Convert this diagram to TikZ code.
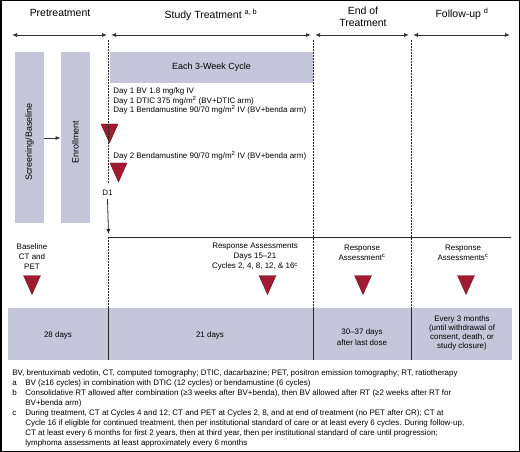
\documentclass[tikz,border=0pt]{standalone}
\usepackage{fontspec}
\setmainfont{Liberation Sans}
\usetikzlibrary{positioning,calc,arrows.meta}
\definecolor{bandgray}{RGB}{197,198,218}
\definecolor{markred}{RGB}{160,26,50}

\begin{document}
\begin{tikzpicture}[x=1bp,y=-1bp,>={Latex[length=5bp,width=4bp]},line width=0.8bp,
head/.style={font=\fontsize{10.5}{12.5}\selectfont,align=center,inner sep=0},
small/.style={font=\fontsize{8}{10}\selectfont,align=center,inner sep=0},
box/.style={fill=bandgray,inner sep=0,font=\fontsize{9}{11}\selectfont},
upright/.style={rotate=90,inner sep=0,font=\fontsize{9}{11}\selectfont},
phase/.style={<->,draw=black!80},
sep/.style={draw=black!85,line width=1bp,dash pattern=on 2bp off 1bp},
marker/.pic={\filldraw[fill=markred,draw=markred!70!black,line width=0.4bp] (-8.5,-9.5) -- (8.5,-9.5) -- (0,9.5) -- cycle;}]
\useasboundingbox (0,0) rectangle (520,452);
\draw[line width=1.5bp] (0.75,0.75) rectangle (519.25,451.25);
% headers
  \node[head] (pre) at (60,13) {Pretreatment};
  \node[head] (study) at (211,15) {Study Treatment \textsuperscript{a, b}};
  \node[head] (eot) at (363,17) {End of\\Treatment};
  \node[head] (fu) at (462,14) {Follow-up \textsuperscript{d}};
  \coordinate (a0) at (12,35);  \coordinate (a1) at (107,35);
  \coordinate (b0) at (111,35); \coordinate (b1) at (311,35);
  \coordinate (c0) at (315,35); \coordinate (c1) at (409,35);
  \coordinate (d0) at (413,35); \coordinate (d1) at (510,35);
  \draw[phase] (a0) -- (a1);
  \draw[phase] (b0) -- (b1);
  \draw[phase] (c0) -- (c1);
  \draw[phase] (d0) -- (d1);
% pretreatment boxes
  \node[box,minimum width=29bp,minimum height=171bp] (screen) at (29.5,137.5) {};
  \node[box,minimum width=29bp,minimum height=171bp] (enroll) at (75.5,137.5) {};
  \node[upright] (screentext) at (29.5,142) {Screening/Baseline};
  \node[upright] (enrolltext) at (75.5,142) {Enrollment};
  \draw[->,black!80] (screen.east |- 0,138) -- (enroll.west |- 0,138);
% cycle
  \node[box,minimum width=203bp,minimum height=31bp] (cycle) at (211.5,67.5) {Each 3-Week Cycle};
  \node[small,align=left,anchor=north west,font=\fontsize{8}{9.5}\selectfont] (day1) at (113,87.5)
    {Day 1 BV 1.8 mg/kg IV\\Day 1 DTIC 375 mg/m\textsuperscript{2} (BV+DTIC arm)\\Day 1 Bendamustine 90/70 mg/m\textsuperscript{2} IV (BV+benda arm)};
  \node[small,anchor=west] (day2) at (113,156) {Day 2 Bendamustine 90/70 mg/m\textsuperscript{2} IV (BV+benda arm)};
  \pic at (109.5,133.5) {marker};
  \pic at (118.5,172.5) {marker};
  \node[small] (D1) at (107.5,193) {D1};
  \coordinate (r0) at (108.5,237);
  \coordinate (r1) at (511,237);
  \draw[->,black!85] ($(D1.south)+(0,3)$) -- ($(r0)+(0,-3)$);
  \draw[black!85] (r0) -- (r1);
% separators
  \draw[sep] (108.5,40) -- (108.5,184);
  \draw[sep] (r0) -- (108.5,308);
  \draw[sep] (313,40) -- (313,308);
  \draw[sep] (411,40) -- (411,308);
% response assessments
  \node[small] (rbase) at (32,257) {Baseline\\CT and\\PET};
  \node[small] (rcyc) at (255,257) {Response Assessments\\Days 15--21\\Cycles 2, 4, 8, 12, \& 16\textsuperscript{c}};
  \node[small] (reot) at (362,252.5) {Response\\Assessment\textsuperscript{c}};
  \node[small] (rfu) at (463,252.5) {Response\\Assessments\textsuperscript{c}};
  \pic at (32,285) {marker};
  \pic at (267.5,285) {marker};
  \pic at (363,285) {marker};
  \pic at (466,285) {marker};
% timeline band
  \node[box,minimum width=504bp,minimum height=52bp] (band) at (260,334) {};
  \draw[black!85] (108.5,308) -- (108.5,360);
  \draw[black!85] (313,308) -- (313,360);
  \draw[black!85] (411,308) -- (411,360);
  \node[small] (d28) at (58,335) {28 days};
  \node[small] (d21) at (210,335) {21 days};
  \node[small,font=\fontsize{8}{11}\selectfont] (d30) at (362,337) {30--37 days\\after last dose};
  \node[small,font=\fontsize{8}{9.2}\selectfont] (d3m) at (462,333) {Every 3 months\\(until withdrawal of\\consent, death, or\\study closure)};
% notes
  \node[anchor=north west,inner sep=0,font=\fontsize{8}{10}\selectfont] (notes) at (12,368) {%
    \begin{tabular}{@{}p{13bp}@{}l@{}}
    \multicolumn{2}{@{}l@{}}{BV, brentuximab vedotin, CT, computed tomography; DTIC, dacarbazine; PET, positron emission tomography; RT, ratiotherapy}\\
    a & BV (≥16 cycles) in combination with DTIC (12 cycles) or bendamustine (6 cycles)\\
    b & Consolidative RT allowed after combination (≥3 weeks after BV+benda), then BV allowed after RT (≥2 weeks after RT for\\
      & BV+benda arm)\\
    c & During treatment, CT at Cycles 4 and 12; CT and PET at Cycles 2, 8, and at end of treatment (no PET after CR); CT at\\
      & Cycle 16 if eligible for continued treatment, then per institutional standard of care or at least every 6 cycles. During follow-up,\\
      & CT at least every 6 months for first 2 years, then at third year, then per institutional standard of care until progression;\\
      & lymphoma assessments at least approximately every 6 months
    \end{tabular}};
\end{tikzpicture}
\end{document}
